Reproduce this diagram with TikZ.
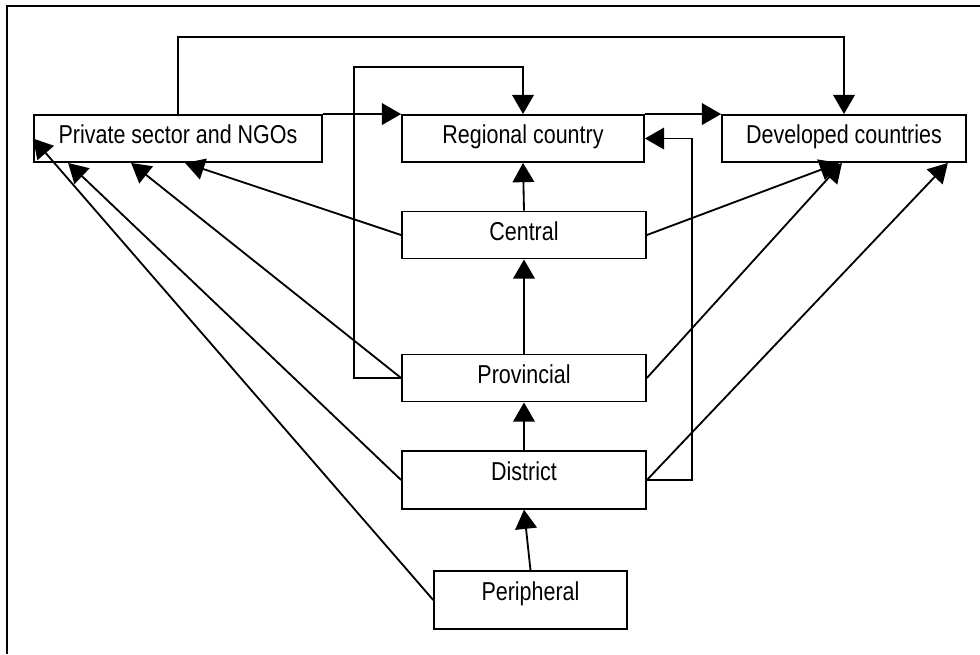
\documentclass[tikz,border=0pt]{standalone}
\usepackage{fontspec}
\setmainfont{Liberation Sans}[FakeStretch=0.83]
\usetikzlibrary{calc,arrows.meta}

\tikzset{
	box/.style={draw, line width=1.2pt, rectangle, inner xsep=0pt, inner ysep=0pt,
		text height=0.72cm, text depth=0.46cm, font=\fontsize{18.4}{21}\selectfont},
	tallbox/.style={box, text depth=0.72cm},
	arr/.style={line width=1.3pt, -{Triangle[length=0.48cm, width=0.54cm]}}
}

\begin{document}
\begin{tikzpicture}[x=0.025cm, y=-0.025cm]
			%%%%% START %%%%%
			\useasboundingbox (0,0) rectangle (980,654);
			
			\draw[line width=1.2pt] (7,654) -- (7,6) -- (980,6);
			
			\node[box, minimum width=7.2cm] (priv) at (178,138.5) {Private sector and NGOs};
			\node[box, minimum width=6.05cm] (regional) at (523,138.5) {Regional country};
			\node[box, minimum width=6.1cm] (devel) at (844,138.5) {Developed countries};
			
			\node[box, minimum width=6.1cm] (central) at (524,235) {Central};
			\node[box, minimum width=6.1cm] (prov) at (524,378) {Provincial};
			\node[tallbox, minimum width=6.1cm] (dist) at (524,480) {District};
			\node[tallbox, minimum width=4.82cm] (peri) at (530.5,600) {Peripheral};
			
			\coordinate (topline) at (0,37);
			\coordinate (inner) at (354,67);
			\coordinate (rloop) at (692,0);
			
			% up the chain
			\draw[arr] (peri.north) -- (dist.south);
			\draw[arr] (dist.north) -- (prov.south);
			\draw[arr] (prov.north) -- (central.south);
			\draw[arr] (central.north) -- (regional.south);
			
			% top row
			\draw[arr] (priv.north east) -- (regional.north west);
			\draw[arr] (regional.north east) -- (devel.north west);
			\draw[arr] (priv.north) -- (priv.north |- topline) -| (devel.north);
			\draw[arr] (prov.west) -| (inner) -| (regional.north);
			\draw[arr] (dist.east) -| (rloop |- regional.east) -- (regional.east);
			
			% to developed countries
			\draw[arr] (central.east) -- ($(devel.south)+(-5,0)$);
			\draw[arr] (prov.east) -- ($(devel.south)+(-2,0)$);
			\draw[arr] (dist.east) -- ($(devel.south east)+(-19,0)$);
			
			% to private sector
			\draw[arr] (central.west) -- ($(priv.south west)+(152,0)$);
			\draw[arr] (prov.west) -- ($(priv.south west)+(98,0)$);
			\draw[arr] (dist.west) -- ($(priv.south west)+(35,0)$);
			\draw[arr] (peri.west) -- (priv.west);
			
			%%%%% END %%%%%
\end{tikzpicture}
\end{document}
